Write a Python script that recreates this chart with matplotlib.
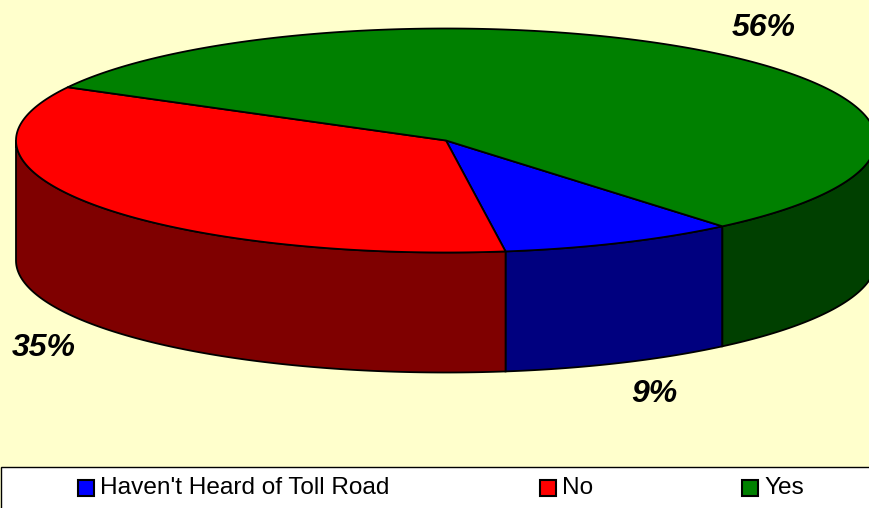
import numpy as np
import matplotlib
matplotlib.use("Agg")
import matplotlib.pyplot as plt
from matplotlib.patches import Polygon, Rectangle

categories = ["Haven't Heard of Toll Road", "No", "Yes"]
values = [8.9, 35.1, 56]
top_colors = ["#0000ff", "#ff0000", "#008000"]
side_colors = ["#00007f", "#7f0000", "#004000"]
pct_labels = ["9%", "35%", "56%"]

BG = "#ffffcc"
cx, cy, rx, ry, depth = 446, 140.5, 430, 112, 120
start_deg = -50

plt.rcParams['font.family'] = ['Liberation Sans', 'DejaVu Sans']
fig = plt.figure(figsize=(8.70, 5.08), dpi=100, facecolor=BG)
ax = fig.add_axes([0, 0, 1, 1])
ax.set_xlim(0, 870)
ax.set_ylim(508, 0)
ax.axis("off")


def pt(t):
    t = np.radians(t)
    return cx + rx * np.cos(t), cy - ry * np.sin(t)


ang = start_deg
spans = []
for v in values:
    a2 = ang - v * 3.6
    spans.append((ang, a2))
    ang = a2

# side walls: only the visible, lower half of the rim
for (a1, a2), col in zip(spans, side_colors):
    lo, hi = a2, a1
    for shift in (0, 360, -360):
        l, h = max(lo + shift, -180), min(hi + shift, 0)
        if h > l:
            t = np.linspace(l, h, 120)
            x, y = pt(t)
            xy = np.r_[np.c_[x, y], np.c_[x[::-1], y[::-1] + depth]]
            ax.add_patch(Polygon(xy, closed=True, fc=col, ec="black", lw=1.3, zorder=2))

# top faces
for (a1, a2), col in zip(spans, top_colors):
    t = np.linspace(a1, a2, 240)
    x, y = pt(t)
    xy = np.r_[[[cx, cy]], np.c_[x, y]]
    ax.add_patch(Polygon(xy, closed=True, fc=col, ec="black", lw=1.3, zorder=3, joinstyle="round"))

# percentage labels
label_pos = [(654.5, 394.5), (43.5, 348.5), (764, 28.5)]
for s, (x, y) in zip(pct_labels, label_pos):
    ax.text(x, y, s, fontsize=23, fontweight="bold", style="italic", color="black",
            ha="center", va="center", zorder=5)

# legend box (right edge runs off the canvas, as in the reference)
ax.add_patch(Rectangle((0.5, 467), 875, 45, fc="white", ec="black", lw=1.0, zorder=4))
legend_x = [78, 540, 742]
for xp, name, col in zip(legend_x, categories, top_colors):
    ax.add_patch(Rectangle((xp, 480), 16.5, 15.5, fc=col, ec="black", lw=1.5, zorder=5))
    ax.text(xp + 22.5, 488.5, name, fontsize=17.6, color="black", ha="left", va="center", zorder=5)

fig.savefig("out.png", dpi=100, facecolor=BG)
